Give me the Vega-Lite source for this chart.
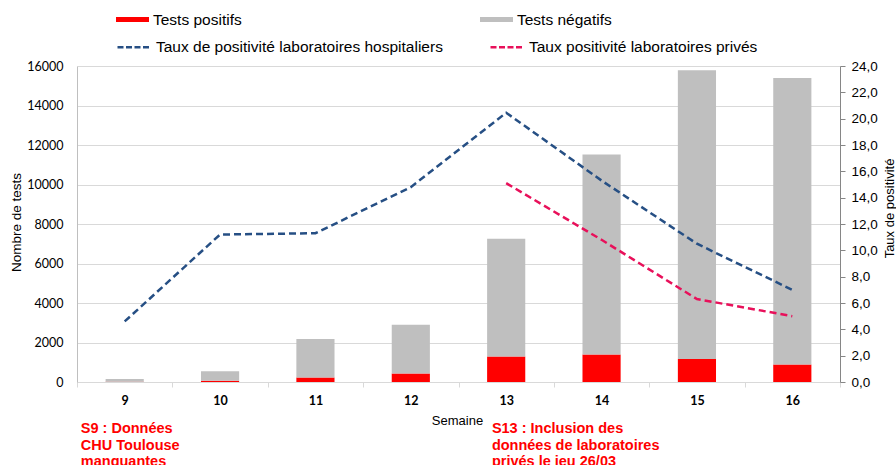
{
  "$schema": "https://vega.github.io/schema/vega-lite/v6.json",
  "width": 763,
  "height": 316,
  "autosize": {"type": "none"},
  "padding": {"left": 77, "top": 66, "right": 56, "bottom": 83},
  "background": "white",
  "config": {"view": {"stroke": null}, "font": "Liberation Sans"},
  "datasets": {
    "barres": [
      {"semaine": 9, "type": "Tests positifs", "tests": 10},
      {"semaine": 9, "type": "Tests négatifs", "tests": 140},
      {"semaine": 10, "type": "Tests positifs", "tests": 60},
      {"semaine": 10, "type": "Tests négatifs", "tests": 490},
      {"semaine": 11, "type": "Tests positifs", "tests": 230},
      {"semaine": 11, "type": "Tests négatifs", "tests": 1950},
      {"semaine": 12, "type": "Tests positifs", "tests": 435},
      {"semaine": 12, "type": "Tests négatifs", "tests": 2465},
      {"semaine": 13, "type": "Tests positifs", "tests": 1290},
      {"semaine": 13, "type": "Tests négatifs", "tests": 5960},
      {"semaine": 14, "type": "Tests positifs", "tests": 1390},
      {"semaine": 14, "type": "Tests négatifs", "tests": 10130},
      {"semaine": 15, "type": "Tests positifs", "tests": 1170},
      {"semaine": 15, "type": "Tests négatifs", "tests": 14610},
      {"semaine": 16, "type": "Tests positifs", "tests": 880},
      {"semaine": 16, "type": "Tests négatifs", "tests": 14510}
    ],
    "taux": [
      {"semaine": 9, "serie": "Taux de positivité laboratoires hospitaliers", "taux": 4.6},
      {"semaine": 10, "serie": "Taux de positivité laboratoires hospitaliers", "taux": 11.2},
      {"semaine": 11, "serie": "Taux de positivité laboratoires hospitaliers", "taux": 11.3},
      {"semaine": 12, "serie": "Taux de positivité laboratoires hospitaliers", "taux": 14.8},
      {"semaine": 13, "serie": "Taux de positivité laboratoires hospitaliers", "taux": 20.45},
      {"semaine": 14, "serie": "Taux de positivité laboratoires hospitaliers", "taux": 15.3},
      {"semaine": 15, "serie": "Taux de positivité laboratoires hospitaliers", "taux": 10.5},
      {"semaine": 16, "serie": "Taux de positivité laboratoires hospitaliers", "taux": 7.0},
      {"semaine": 13, "serie": "Taux positivité laboratoires privés", "taux": 15.1},
      {"semaine": 14, "serie": "Taux positivité laboratoires privés", "taux": 10.8},
      {"semaine": 15, "serie": "Taux positivité laboratoires privés", "taux": 6.3},
      {"semaine": 16, "serie": "Taux positivité laboratoires privés", "taux": 5.0}
    ]
  },
  "layer": [
    {
      "data": {"name": "barres"},
      "mark": {"type": "bar", "width": {"band": 0.4}},
      "encoding": {
        "x": {
          "field": "semaine", "type": "ordinal", "title": "Semaine",
          "scale": {"paddingInner": 0, "paddingOuter": 0},
          "axis": {
            "tickBand": "extent", "tickColor": "#d9d9d9", "tickSize": 5,
            "domainColor": "#d9d9d9", "labelAngle": 0, "labelFont": "Lato",
            "labelFontWeight": "bold", "labelFontSize": 12.5, "labelColor": "#000",
            "labelPadding": 7, "titleX": 380, "titleY": 38, "titleBaseline": "middle",
            "titleFontWeight": "normal", "titleFontSize": 13, "titleColor": "#000",
            "titleFont": "Liberation Sans"
          }
        },
        "y": {
          "field": "tests", "type": "quantitative", "stack": "zero", "title": "Nombre de tests",
          "scale": {"domain": [0, 16000], "nice": false},
          "axis": {
            "orient": "left",
            "values": [0, 2000, 4000, 6000, 8000, 10000, 12000, 14000, 16000],
            "format": "d", "grid": true, "gridColor": "#d9d9d9", "ticks": false, "labelOverlap": false,
            "domainColor": "#bfbfbf", "labelPadding": 14, "labelFont": "Lato",
            "labelFontSize": 12.5, "labelColor": "#000", "titleX": -61, "titleY": 156,
            "titleAngle": 270, "titleBaseline": "middle", "titleAlign": "center",
            "titleFontWeight": "normal", "titleFontSize": 13.5, "titleColor": "#000"
          }
        },
        "color": {
          "field": "type", "type": "nominal",
          "scale": {"domain": ["Tests positifs", "Tests négatifs"], "range": ["#ff0000", "#bfbfbf"]},
          "legend": {
            "orient": "none", "legendX": 39, "legendY": -63, "direction": "horizontal",
            "columns": 2, "columnPadding": 238, "title": null,
            "symbolType": "M-1,-0.15H1V0.15H-1Z", "symbolSize": 1089, "symbolStrokeWidth": 0,
            "labelFontSize": 15.5, "labelFont": "Liberation Sans", "labelColor": "#000",
            "labelOffset": 4, "padding": 0, "rowPadding": 0, "labelLimit": 500
          }
        },
        "order": {"field": "type", "sort": "descending"}
      }
    },
    {
      "data": {"values": [{"semaine": 9, "texte": ["S9 : Données", "CHU Toulouse", " manquantes"]}]},
      "mark": {"type": "text", "align": "left", "baseline": "alphabetic", "fontSize": 14.5, "fontWeight": "bold", "color": "#ff0000", "lineHeight": 16.5, "dy": 51, "font": "Liberation Sans"},
      "encoding": {
        "x": {"field": "semaine", "type": "ordinal", "bandPosition": 0.04, "title": "Semaine"},
        "y": {"datum": 0, "type": "quantitative", "scale": {"domain": [0, 16000], "nice": false}, "axis": null},
        "text": {"field": "texte"}
      }
    },
    {
      "data": {"values": [{"semaine": 13, "texte": ["S13 : Inclusion des", "données de laboratoires", "privés le jeu 26/03"]}]},
      "mark": {"type": "text", "align": "left", "baseline": "alphabetic", "fontSize": 14.5, "fontWeight": "bold", "color": "#ff0000", "lineHeight": 16.5, "dy": 51, "font": "Liberation Sans"},
      "encoding": {
        "x": {"field": "semaine", "type": "ordinal", "bandPosition": 0.35, "title": "Semaine"},
        "y": {"datum": 0, "type": "quantitative", "scale": {"domain": [0, 16000], "nice": false}, "axis": null},
        "text": {"field": "texte"}
      }
    },
    {
      "data": {"name": "taux"},
      "mark": {"type": "line", "strokeDash": [7, 4], "strokeWidth": 2.5},
      "encoding": {
        "x": {"field": "semaine", "type": "ordinal", "title": "Semaine"},
        "y": {
          "field": "taux", "type": "quantitative", "title": "Taux de positivité",
          "scale": {"domain": [0, 24], "nice": false},
          "axis": {
            "orient": "right", "values": [0, 2, 4, 6, 8, 10, 12, 14, 16, 18, 20, 22, 24],
            "labelExpr": "replace(format(datum.value, '.1f'), '.', ',')", "labelOverlap": false,
            "grid": false, "domainColor": "#868686", "tickColor": "#868686", "tickSize": 5,
            "labelPadding": 6, "labelFontSize": 13.5, "labelColor": "#000",
            "titleX": 49, "titleY": 142, "titleAngle": -90, "titleBaseline": "middle",
            "titleAlign": "center", "titleFontWeight": "normal", "titleFontSize": 13, "titleColor": "#000"
          }
        },
        "stroke": {
          "field": "serie", "type": "nominal",
          "scale": {"domain": ["Taux de positivité laboratoires hospitaliers", "Taux positivité laboratoires privés"], "range": ["#264f84", "#e8105a"]},
          "legend": {
            "orient": "none", "legendX": 39, "legendY": -37, "direction": "horizontal",
            "columns": 2, "columnPadding": 42, "title": null,
            "symbolType": "stroke", "symbolSize": 1089, "symbolStrokeWidth": 2.5, "symbolDash": [6, 2.5],
            "labelFontSize": 15.5, "labelFont": "Liberation Sans", "labelColor": "#000",
            "labelOffset": 4, "padding": 0, "rowPadding": 0, "labelLimit": 500
          }
        }
      }
    }
  ],
  "resolve": {"scale": {"y": "independent"}, "axis": {"y": "independent"}}
}
